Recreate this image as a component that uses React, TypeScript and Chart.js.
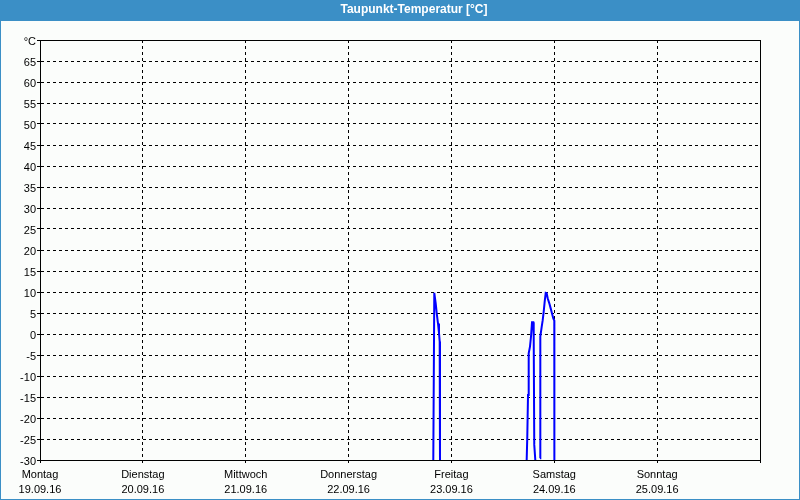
import React, { useEffect, useRef } from "react";
import { Chart, registerables } from "chart.js";

Chart.register(...registerables);

const TITLE = "Taupunkt-Temperatur [°C]";
const DAY_NAMES = ["Montag", "Dienstag", "Mittwoch", "Donnerstag", "Freitag", "Samstag", "Sonntag"];
const DATES = ["19.09.16", "20.09.16", "21.09.16", "22.09.16", "23.09.16", "24.09.16", "25.09.16"];
const Y_MIN = -30;
const Y_MAX = 70;
const Y_UNIT = "°C";

// hours since Monday 00:00
const HOURS = [
  91.77, 92.0, 92.1, 92.33, 92.57, 92.87, 93.1, 93.26, 93.33,
  100,
  113.56, 113.7, 113.87, 114.03, 114.33, 114.57, 114.8, 115.1, 115.2, 115.33, 115.57,
  116,
  116.67, 116.74, 117.06, 117.3, 117.53, 117.76, 118.0, 118.23, 118.46, 118.84, 119.16, 119.47, 119.77, 120.0, 120.02,
];
const DEWPOINT: (number | null)[] = [
  -30, 9.8, 9.8, 7.3, 4.9, 2.5, 0.2, -1.8, -30,
  null,
  -30, -24.5, -14.5, -4.6, -3.0, -0.6, 2.8, 2.8, -0.6, -26.4, -30,
  null,
  -29.6, -0.6, 1.7, 3.3, 5.3, 7.7, 9.8, 9.7, 8.5, 7.3, 6.1, 4.9, 3.7, 3.2, -30,
];

const BLUE = "#3b8fc6";
const BG = "#fbfdfb";
const FONT = "'Liberation Sans', Arial, sans-serif";

export default function App() {
  const ref = useRef<HTMLCanvasElement>(null);

  useEffect(() => {
    if (!ref.current) return;
    const frame = {
      id: "frame",
      beforeDraw(chart: any) {
        const { ctx, width, height } = chart;
        ctx.save();
        ctx.fillStyle = BG;
        ctx.fillRect(0, 0, width, height);
        ctx.fillStyle = BLUE;
        ctx.fillRect(0, 0, width, 21);
        ctx.fillRect(0, 0, 1, height);
        ctx.fillRect(width - 1, 0, 1, height);
        ctx.fillRect(0, height - 1, width, 1);
        ctx.restore();
      },
      afterDatasetsDraw(chart: any) {
        const { ctx, chartArea } = chart;
        ctx.save();
        ctx.strokeStyle = "#000";
        ctx.lineWidth = 1;
        ctx.setLineDash([]);
        ctx.strokeRect(
          Math.round(chartArea.left) + 0.5,
          Math.round(chartArea.top) + 0.5,
          Math.round(chartArea.right - chartArea.left),
          Math.round(chartArea.bottom - chartArea.top)
        );
        ctx.restore();
      },
      afterDraw(chart: any) {
        const { ctx } = chart;
        ctx.save();
        ctx.fillStyle = "#ffffff";
        ctx.font = `bold 12px ${FONT}`;
        ctx.textAlign = "center";
        ctx.textBaseline = "middle";
        ctx.fillText(TITLE, 414, 10);
        ctx.restore();
      },
    };

    const chart = new Chart(ref.current, {
      type: "line",
      data: {
        datasets: [
          {
            label: TITLE,
            data: HOURS.map((h, i) => ({ x: h, y: DEWPOINT[i] })) as any,
            borderColor: "#0000ff",
            borderWidth: 2,
            pointRadius: 0,
            tension: 0,
            spanGaps: false,
            fill: false,
          },
        ],
      },
      options: {
        animation: false,
        responsive: false,
        devicePixelRatio: 1,
        layout: { padding: { left: 0, right: 40, top: 40, bottom: 0 } },
        plugins: {
          legend: { display: false },
          title: { display: false },
          tooltip: { enabled: false },
        },
        scales: {
          x: {
            type: "linear",
            min: 0,
            max: 168,
            afterFit: (s: any) => {
              s.height = 40;
            },
            afterBuildTicks: (s: any) => {
              s.ticks = DAY_NAMES.map((_, i) => ({ value: i * 24 })).concat([{ value: 168 }]);
            },
            ticks: {
              autoSkip: false,
              maxRotation: 0,
              minRotation: 0,
              padding: 4,
              color: "#000",
              font: { family: FONT, size: 11, lineHeight: "15px" },
              callback: (v: any) => {
                const i = Math.round(Number(v) / 24);
                if (i >= DAY_NAMES.length) return "";
                return [DAY_NAMES[i], DATES[i]];
              },
            },
            grid: {
              color: "#000",
              lineWidth: 1,
              borderDash: [3, 3] as any,
              tickLength: 3,
              tickColor: "#000",
            } as any,
            border: { display: true, color: "#000", dash: [3, 3] },
          },
          y: {
            min: Y_MIN,
            max: Y_MAX,
            afterFit: (s: any) => {
              s.width = 40;
            },
            ticks: {
              stepSize: 5,
              autoSkip: false,
              padding: 1,
              labelOffset: 2,
              color: "#000",
              font: { family: FONT, size: 11 },
              callback: (v: any) => (Number(v) === Y_MAX ? Y_UNIT : String(v)),
            },
            grid: {
              color: "#000",
              lineWidth: 1,
              tickLength: 3,
              tickColor: "#000",
            } as any,
            border: { display: true, color: "#000", dash: [3, 3] },
          },
        },
      } as any,
      plugins: [frame],
    });
    return () => chart.destroy();
  }, []);

  return (
    <div style={{ position: "absolute", left: 0, top: 0, width: 800, height: 500 }}>
      <canvas ref={ref} width={800} height={500} style={{ width: 800, height: 500, display: "block" }} />
    </div>
  );
}
